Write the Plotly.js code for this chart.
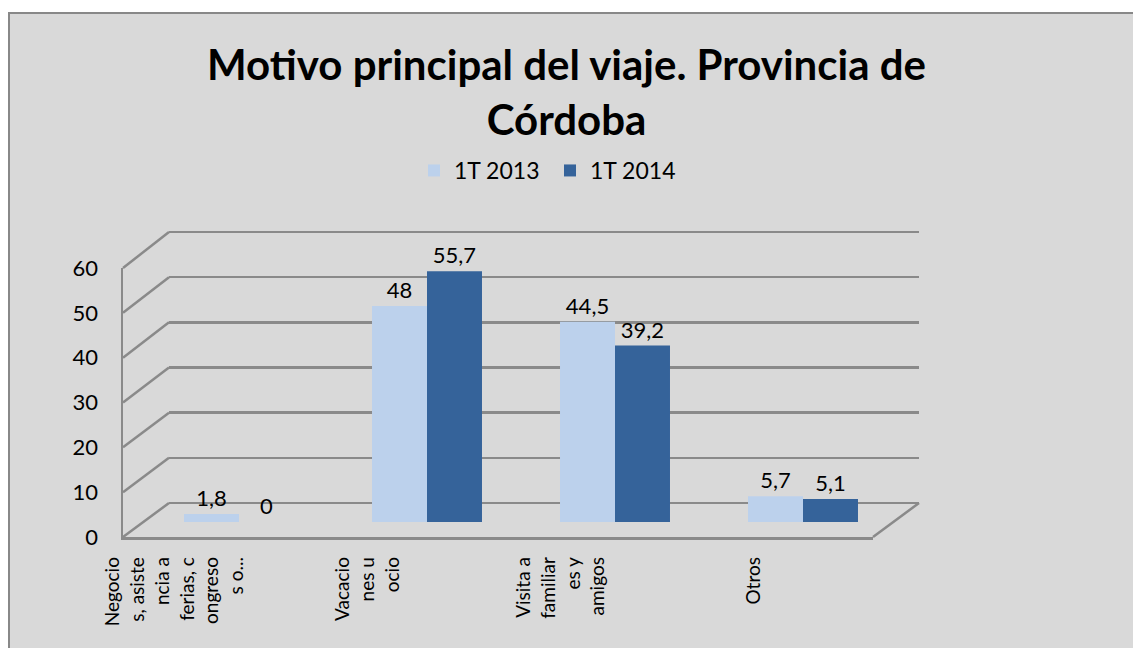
<!DOCTYPE html>
<html>
<head>
<meta charset="utf-8">
<script src="https://cdn.plot.ly/plotly-3.0.1.min.js"></script>
<style>html,body{margin:0;padding:0;background:#fff}#chart{width:1133px;height:648px}</style>
</head>
<body>
<div id="chart"></div>
<script>
// ---- data ----
const categories = ['Negocios, asistencia a ferias, congresos o...', 'Vacaciones u ocio', 'Visita a familiares y amigos', 'Otros'];
const tickLabels = ['Negocio<br>s, asiste<br>ncia a<br>ferias, c<br>ongreso<br>s o...', 'Vacacio<br>nes u<br>ocio', 'Visita a<br>familiar<br>es y<br>amigos', 'Otros'];
const series2013 = [1.8, 48, 44.5, 5.7];
const series2014 = [0, 55.7, 39.2, 5.1];
const seriesNames = ['1T 2013', '1T 2014'];
const yTicks = [0, 10, 20, 30, 40, 50, 60];
const chartTitle = 'Motivo principal del viaje. Provincia de<br>Córdoba';

// ---- geometry (pixels) ----
const W = 1133, H = 648;
const fx = p => p / W, fy = p => 1 - p / H;
const frontLeft = 123, frontRight = 873, backLeft = 169, backRight = 919;
const floorFront = 537, floorBack = 503, front60 = 268, back60 = 232;
const plotTop = 220;
const barZero = 522, barPx = 4.5;
const labelFirst = 175, labelStep = 193;   // where the category labels sit
const gridColor = '#8a8a8a', gridW = 2.5;
const FONT = 'Lato, "Open Sans", sans-serif';

const backPx = (floorBack - back60) / 60;
const frontPx = (floorFront - front60) / 60;
const yMax = yTicks[yTicks.length - 1];
const lblR0 = -(labelFirst - frontLeft) / labelStep;
const lblR1 = lblR0 + (frontRight - frontLeft) / labelStep;

const fmt = v => String(v).replace('.', ',');

const traces = [
  {
    type: 'scatter', mode: 'markers', x: categories, y: series2013,
    xaxis: 'x', yaxis: 'y', marker: {opacity: 0}, hoverinfo: 'skip', showlegend: false
  },
  {
    type: 'bar', name: seriesNames[0], x: categories, y: series2013,
    xaxis: 'x2', yaxis: 'y2',
    marker: {color: '#bcd1ec'},
    text: series2013.map(fmt), textposition: 'outside', cliponaxis: false,
    textfont: {family: FONT, size: 22, color: '#000'}
  },
  {
    type: 'bar', name: seriesNames[1], x: categories, y: series2014,
    xaxis: 'x2', yaxis: 'y2',
    marker: {color: '#35639a'},
    text: series2014.map(fmt), textposition: 'outside', cliponaxis: false,
    textfont: {family: FONT, size: 22, color: '#000'}
  },
  {
    type: 'scatter', mode: 'markers', x: categories, y: series2013,
    xaxis: 'x3', yaxis: 'y3', marker: {opacity: 0}, hoverinfo: 'skip', showlegend: false
  }
];

const shapes = [
  {type: 'rect', xref: 'paper', yref: 'paper', x0: fx(9), x1: fx(1150), y0: fy(670), y1: fy(13),
   fillcolor: '#d9d9d9', line: {color: '#888888', width: 2}, layer: 'below'}
];
yTicks.forEach(t => {
  shapes.push({type: 'line', xref: 'paper', yref: 'paper', layer: 'below',
    x0: fx(frontLeft), y0: fy(floorFront - t * frontPx),
    x1: fx(backLeft), y1: fy(floorBack - t * backPx),
    line: {color: gridColor, width: gridW}});
});
shapes.push({type: 'line', xref: 'paper', yref: 'paper', layer: 'below',
  x0: fx(frontRight), y0: fy(floorFront), x1: fx(backRight), y1: fy(floorBack),
  line: {color: gridColor, width: gridW}});

const layout = {
  width: W, height: H,
  margin: {l: 0, r: 0, t: 0, b: 0},
  paper_bgcolor: '#ffffff', plot_bgcolor: 'rgba(0,0,0,0)',
  font: {family: FONT, size: 20, color: '#000'},
  separators: ',.',
  title: {text: chartTitle, font: {family: FONT, size: 42, weight: 700, color: '#000'},
          x: 0.5, xanchor: 'center', xref: 'paper', y: fy(80), yanchor: 'top', yref: 'container'},
  showlegend: true,
  legend: {orientation: 'h', x: fx(414), xanchor: 'left', y: fy(149), yanchor: 'top',
           entrywidth: 91, entrywidthmode: 'pixels',
           font: {family: FONT, size: 23, color: '#000'}, bgcolor: 'rgba(0,0,0,0)', traceorder: 'normal'},
  barmode: 'group', bargap: 0.415, bargroupgap: 0,
  // back wall gridlines
  xaxis: {domain: [fx(backLeft), fx(backRight)], anchor: 'y', type: 'category', range: [-0.5, 3.5],
          showgrid: false, showticklabels: false, zeroline: false, showline: false, ticks: ''},
  yaxis: {domain: [fy(floorFront), fy(plotTop)], anchor: 'x',
          range: [-(floorFront - floorBack) / backPx, yMax + (back60 - plotTop) / backPx],
          tickmode: 'array', tickvals: yTicks, showgrid: true, gridcolor: gridColor, gridwidth: gridW,
          showticklabels: false, zeroline: false, showline: false, ticks: ''},
  // bars
  xaxis2: {domain: [fx(145), fx(897)], anchor: 'y2', type: 'category', showgrid: false,
           showticklabels: false, zeroline: false, showline: false, ticks: ''},
  yaxis2: {domain: [fy(floorFront), fy(plotTop)], anchor: 'x2',
           range: [-(floorFront - barZero) / barPx, (barZero - plotTop) / barPx],
           showgrid: false, showticklabels: false, zeroline: false, showline: false, ticks: ''},
  // front axes with labels
  xaxis3: {domain: [fx(frontLeft), fx(frontRight)], anchor: 'y3', type: 'category', range: [lblR0, lblR1],
           showline: true, linecolor: gridColor, linewidth: gridW, showgrid: false, zeroline: false,
           tickmode: 'array', tickvals: categories, ticktext: tickLabels, tickangle: -90,
           ticks: '', ticklabelstandoff: 10, tickfont: {family: FONT, size: 19, color: '#000'}, automargin: false},
  yaxis3: {domain: [fy(floorFront), fy(front60)], anchor: 'x3', range: [0, yMax],
           showline: true, linecolor: gridColor, linewidth: gridW, showgrid: false, zeroline: false,
           tickmode: 'array', tickvals: yTicks, ticks: '', ticklabelstandoff: 18,
           tickfont: {family: FONT, size: 22, color: '#000'}, automargin: false},
  shapes: shapes
};

Plotly.newPlot('chart', traces, layout, {displayModeBar: false, staticPlot: true});
</script>
</body>
</html>
